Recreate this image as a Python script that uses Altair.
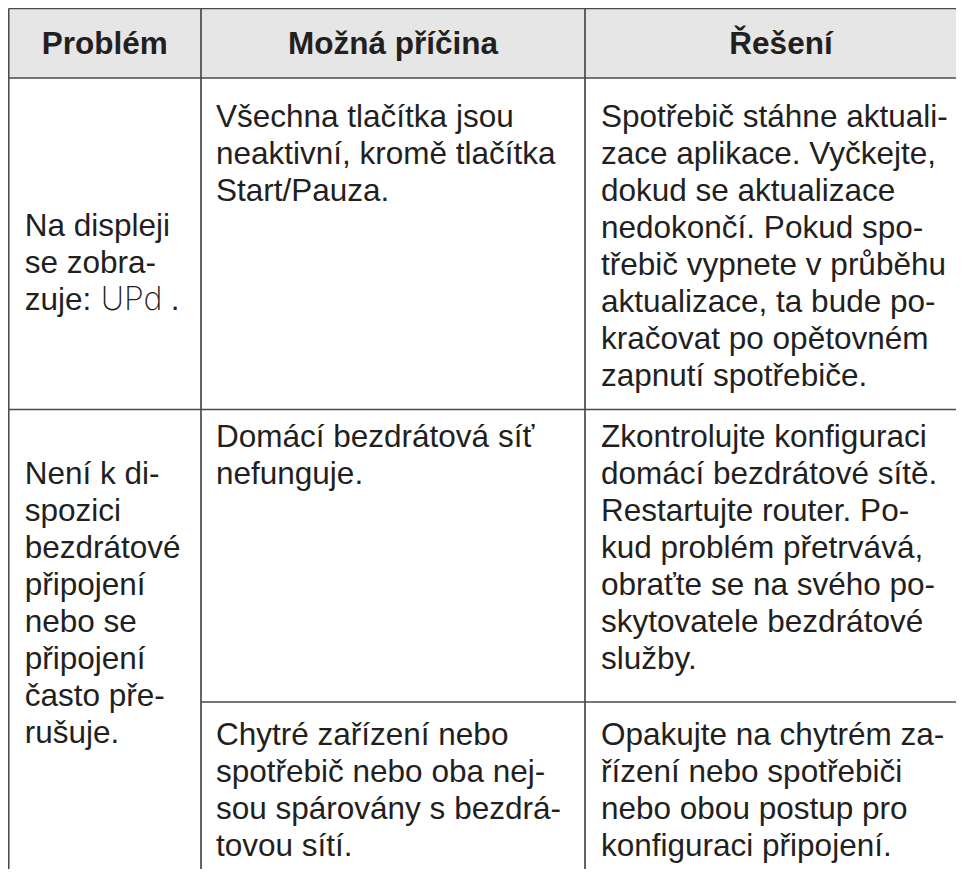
import altair as alt
import pandas as pd

# ---- content ----
headers = ["Problém", "Možná příčina", "Řešení"]

problems = [
    ["Na displeji", "se zobra-", "zuje:"],
    ["Není k di-", "spozici", "bezdrátové", "připojení", "nebo se",
     "připojení", "často pře-", "rušuje."],
]
display_code = "UPd"

causes = [
    ["Všechna tlačítka jsou", "neaktivní, kromě tlačítka", "Start/Pauza."],
    ["Domácí bezdrátová síť", "nefunguje."],
    ["Chytré zařízení nebo", "spotřebič nebo oba nej-",
     "sou spárovány s bezdrá-", "tovou sítí."],
]

solutions = [
    ["Spotřebič stáhne aktuali-", "zace aplikace. Vyčkejte,",
     "dokud se aktualizace", "nedokončí. Pokud spo-",
     "třebič vypnete v průběhu", "aktualizace, ta bude po-",
     "kračovat po opětovném", "zapnutí spotřebiče."],
    ["Zkontrolujte konfiguraci", "domácí bezdrátové sítě.",
     "Restartujte router. Po-", "kud problém přetrvává,",
     "obraťte se na svého po-", "skytovatele bezdrátové", "služby."],
    ["Opakujte na chytrém za-", "řízení nebo spotřebiči",
     "nebo obou postup pro", "konfiguraci připojení."],
]

# ---- layout (table units) ----
W, H = 948, 861
col_edges = [0.7, 193, 577, 969]
row_edges = [0.5, 70, 401.5, 694, H + 20]
line_h = 37
pad_x = 16
header_base = 46
first_base_causes = [119, 439, 736.5]
first_base_problems = [228, 476]

FONT = "Liberation Sans, Arial, Helvetica, sans-serif"
FS = 31.5
TXT = "#231f20"
LINE = "#4a4a4a"

# ---- build tables ----
texts = []
for i, h in enumerate(headers):
    texts.append(dict(t=h, x=(col_edges[i] + col_edges[i + 1]) / 2, y=header_base,
                      kind="header"))

for r, lines in enumerate(problems):
    for k, s in enumerate(lines):
        texts.append(dict(t=s, x=col_edges[0] + pad_x, y=first_base_problems[r] + k * line_h,
                          kind="body"))
for r, lines in enumerate(causes):
    for k, s in enumerate(lines):
        texts.append(dict(t=s, x=col_edges[1] + pad_x - 1, y=first_base_causes[r] + k * line_h,
                          kind="body"))
for r, lines in enumerate(solutions):
    for k, s in enumerate(lines):
        texts.append(dict(t=s, x=col_edges[2] + pad_x, y=first_base_causes[r] + k * line_h,
                          kind="body"))

df_text = pd.DataFrame(texts)

zuje_y = first_base_problems[0] + 2 * line_h
df_code = pd.DataFrame([dict(t=display_code, x=col_edges[0] + 92, y=zuje_y)])
df_dot = pd.DataFrame([dict(t=".", x=col_edges[0] + 162, y=zuje_y)])

df_header_bg = pd.DataFrame([dict(x=col_edges[0], x2=W, y=row_edges[0], y2=row_edges[1])])

rules = [
    # horizontals
    dict(x=col_edges[0], x2=W, y=row_edges[0], y2=row_edges[0]),
    dict(x=col_edges[0], x2=W, y=row_edges[1], y2=row_edges[1]),
    dict(x=col_edges[0], x2=W, y=row_edges[2], y2=row_edges[2]),
    dict(x=col_edges[1], x2=W, y=row_edges[3], y2=row_edges[3]),
    # verticals
    dict(x=col_edges[0], x2=col_edges[0], y=row_edges[0], y2=H),
    dict(x=col_edges[1], x2=col_edges[1], y=row_edges[0], y2=H),
    dict(x=col_edges[2], x2=col_edges[2], y=row_edges[0], y2=H),
]
df_rules = pd.DataFrame(rules)

xs = alt.Scale(domain=[0, W], range=[0, W], nice=False, zero=False)
ys = alt.Scale(domain=[0, H], range=[0, H], nice=False, zero=False)

X = lambda f: alt.X(f, type="quantitative", scale=xs, axis=None)
Y = lambda f: alt.Y(f, type="quantitative", scale=ys, axis=None)

bg = alt.Chart(df_header_bg).mark_rect(color="#e6e6e6").encode(
    x=X("x"), x2="x2", y=Y("y"), y2="y2")

grid = alt.Chart(df_rules).mark_rule(color=LINE, strokeWidth=1.7).encode(
    x=X("x"), x2="x2", y=Y("y"), y2="y2")

header_text = alt.Chart(df_text).transform_filter(alt.datum.kind == "header").mark_text(
    font=FONT, fontSize=FS, fontWeight="bold", color=TXT, align="center", baseline="alphabetic"
).encode(x=X("x"), y=Y("y"), text="t:N")

body_text = alt.Chart(df_text).transform_filter(alt.datum.kind == "body").mark_text(
    font=FONT, fontSize=FS, color=TXT, align="left", baseline="alphabetic"
).encode(x=X("x"), y=Y("y"), text="t:N")

code_text = alt.Chart(df_code).mark_text(
    font="Inter", fontSize=32, fontWeight=200, color="#231f20", align="left",
    baseline="alphabetic"
).encode(x=X("x"), y=Y("y"), text="t:N")

dot_text = alt.Chart(df_dot).mark_text(
    font=FONT, fontSize=FS, color=TXT, align="left", baseline="alphabetic"
).encode(x=X("x"), y=Y("y"), text="t:N")

chart = alt.layer(bg, grid, header_text, body_text, code_text, dot_text).properties(
    width=W, height=H, padding=0, autosize=alt.AutoSizeParams(type="none"),
    background="white"
).configure_view(stroke=None)

chart.save("out.html", embed_options={"renderer": "svg", "actions": False})
